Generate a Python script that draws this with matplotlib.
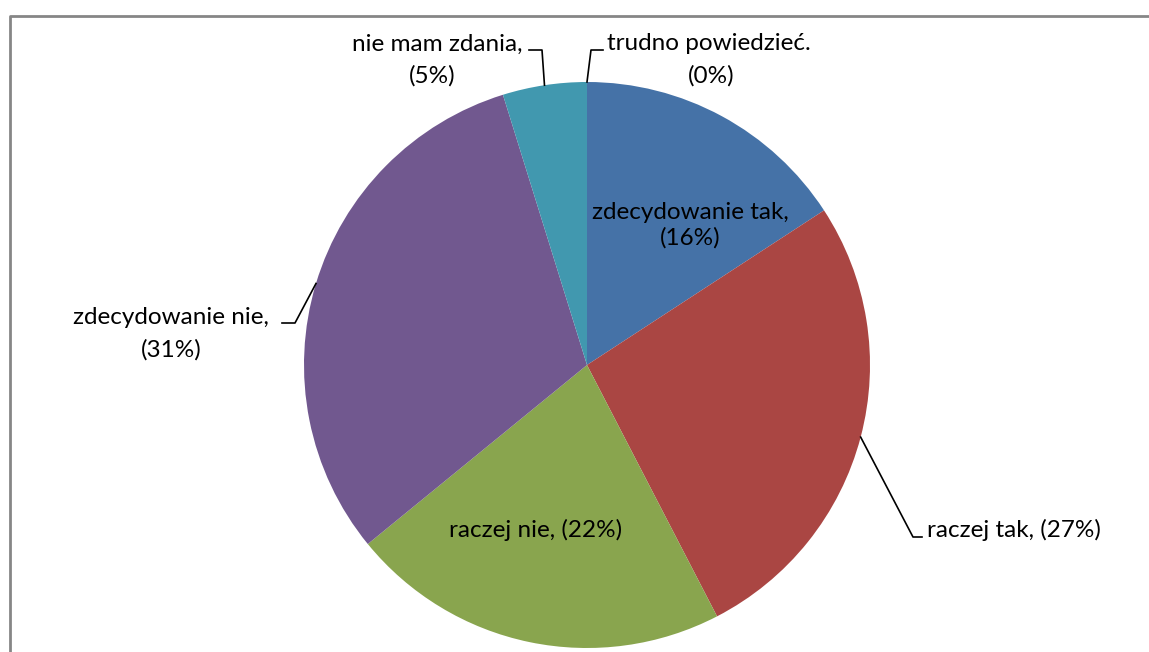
import matplotlib
matplotlib.use("Agg")
import matplotlib.pyplot as plt
import numpy as np

# Data
categories = ["zdecydowanie tak", "raczej tak", "raczej nie",
              "zdecydowanie nie", "nie mam zdania", "trudno powiedzieć."]
values = [15.8, 26.6, 21.7, 31.1, 4.8, 0.0]
pct_labels = ["(16%)", "(27%)", "(22%)", "(31%)", "(5%)", "(0%)"]
colors = ["#4572A7", "#AA4643", "#89A54E", "#71588F", "#4198AF", "#4F81BD"]

W, H = 1149, 652
fig = plt.figure(figsize=(W / 100, H / 100), dpi=100)
ax = fig.add_axes([0, 0, 1, 1])

plt.rcParams['font.family'] = ['Lato', 'DejaVu Sans']
FS = 17.5

cx, cy, R = 587, H - 365, 283
ax.pie(values, colors=colors, startangle=90, counterclock=False,
       center=(cx, cy), radius=R, frame=True,
       wedgeprops=dict(linewidth=0))
ax.set_xlim(0, W)
ax.set_ylim(0, H)
ax.set_aspect("equal")
ax.axis("off")

# chart border (cropped frame)
ax.plot([9.5, 9.5, W + 5], [-5, H - 15.5, H - 15.5], color="#868686", lw=2,
        solid_capstyle="butt", clip_on=False)

# mid angles (clockwise from top)
tot = sum(values)
cum = np.cumsum([0] + values)
mids = [(cum[i] + cum[i + 1]) / 2 / tot * 360 for i in range(len(values))]


def anchor(i):
    a = np.deg2rad(mids[i])
    return cx + R * np.sin(a), cy + R * np.cos(a)


def py(y):
    return H - y


txtkw = dict(fontsize=FS, color="black")

# inside labels
ax.text(690, py(225), f"{categories[0]},\n{pct_labels[0]}", ha="center",
        va="center", linespacing=1.25, **txtkw)
ax.text(536, py(530), f"{categories[2]}, {pct_labels[2]}", ha="center",
        va="center", **txtkw)

# raczej tak
x0, y0 = anchor(1)
ax.plot([x0, 913, 922], [y0, py(537), py(537)], color="black", lw=1.2)
ax.text(927, py(530), f"{categories[1]}, {pct_labels[1]}", ha="left",
        va="center", **txtkw)

# zdecydowanie nie
x0, y0 = anchor(3)
ax.plot([x0, 295, 282], [y0, py(323), py(323)], color="black", lw=1.2)
ax.text(171, py(318), f"{categories[3]},", ha="center", va="center", **txtkw)
ax.text(171, py(350), pct_labels[3], ha="center", va="center", **txtkw)

# nie mam zdania
x0, y0 = anchor(4)
ax.plot([x0, 542, 529], [y0, py(50), py(50)], color="black", lw=1.2)
ax.text(437, py(44), f"{categories[4]},", ha="center", va="center", **txtkw)
ax.text(432, py(76), pct_labels[4], ha="center", va="center", **txtkw)

# trudno powiedzieć
x0, y0 = anchor(5)
ax.plot([x0, 591, 603], [y0, py(50), py(50)], color="black", lw=1.2)
ax.text(607, py(44), categories[5], ha="left", va="center", **txtkw)
ax.text(711, py(76), pct_labels[5], ha="center", va="center", **txtkw)

fig.savefig("out.png", dpi=100)
